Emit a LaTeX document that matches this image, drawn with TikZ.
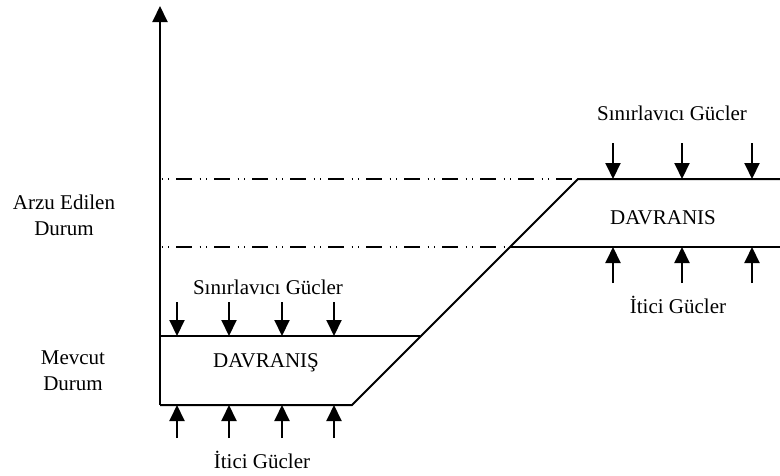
\documentclass[tikz,border=0pt]{standalone}
\usepackage{fontspec}
\setmainfont{Liberation Serif}
\usetikzlibrary{arrows.meta}

\begin{document}
\begin{tikzpicture}[
    x=0.75pt, y=-0.75pt,
    txt/.style={align=center, inner sep=0pt, font=\fontsize{15.75}{19.5}\selectfont},
    rim/.style={line width=1.5pt},
    goalline/.style={line width=1.3pt, dash pattern=on 12pt off 5.6pt on 0.9pt off 4pt on 0.9pt off 5.1pt, dash phase=16.3pt},
    push/.style={-{Triangle[width=11.25pt, length=12pt]}, line width=1.5pt}
]
\useasboundingbox (0,0) rectangle (780,475);

% axis
\coordinate (o) at (160,405);
\coordinate (top) at (160,6);
\draw[push] (o) -- (top);

% behaviour bands
\coordinate (nowTL) at (160,336);
\coordinate (nowTR) at (420,336);
\coordinate (nowBR) at (352,405);
\coordinate (goalTL) at (578,179);
\coordinate (goalBL) at (510,247);
\coordinate (goalTR) at (780,179);
\coordinate (goalBR) at (780,247);
\coordinate (axisHi) at (160,179);
\coordinate (axisLo) at (160,247);

\draw[rim] (nowTL) -- (nowTR);
\draw[rim] (o) -- (nowBR) -- (goalTL) -- (goalTR);
\draw[rim] (goalBL) -- (goalBR);
\draw[goalline] (axisHi) -- (goalTL);
\draw[goalline] (axisLo) -- (goalBL);

% forces on the present state
\foreach \x [count=\i] in {177,229,282,334} {
  \coordinate (nowIn\i) at (\x,302);
  \coordinate (nowTop\i) at (\x,336);
  \coordinate (nowOut\i) at (\x,438);
  \coordinate (nowBot\i) at (\x,405);
  \draw[push] (nowIn\i) -- (nowTop\i);
  \draw[push] (nowOut\i) -- (nowBot\i);
}

% forces on the desired state
\foreach \x [count=\i] in {613,682,752} {
  \coordinate (goalIn\i) at (\x,143);
  \coordinate (goalTop\i) at (\x,179);
  \coordinate (goalOut\i) at (\x,283);
  \coordinate (goalBot\i) at (\x,247);
  \draw[push] (goalIn\i) -- (goalTop\i);
  \draw[push] (goalOut\i) -- (goalBot\i);
}

\node[txt] (arzu) at (64,215) {Arzu Edilen\\Durum};
\node[txt] (mevcut) at (73,371) {Mevcut\\Durum};
\node[txt] (sinirNow) at (268,287) {Sınırlavıcı Gücler};
\node[txt] (davNow) at (266,363) {DAVRANIŞ};
\node[txt] (iticiNow) at (262,460) {İtici Gücler};
\node[txt] (sinirGoal) at (672,113) {Sınırlavıcı Gücler};
\node[txt] (davGoal) at (663,218) {DAVRANIS};
\node[txt] (iticiGoal) at (678,305) {İtici Gücler};
\end{tikzpicture}
\end{document}
